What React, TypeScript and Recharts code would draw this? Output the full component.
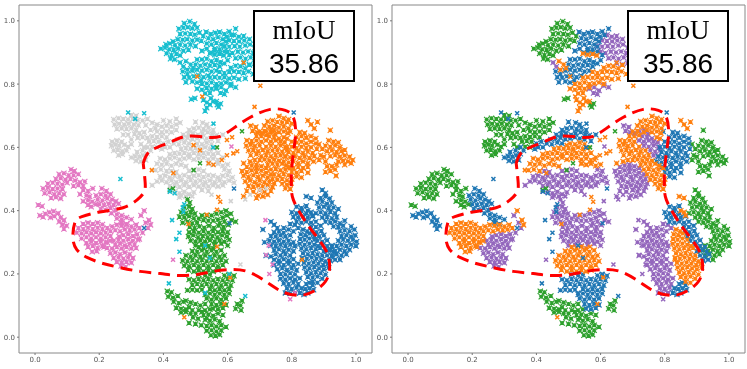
import React from 'react';
import { ScatterChart, Scatter, XAxis, YAxis, ReferenceArea } from 'recharts';

// every cluster is listed as flat x,y pairs in thousandths, both panels share the same embedding
const topGreen = [465,992,482,998,497,990,448,975,462,978,476,980,490,976,505,978,452,958,468,960,484,958,498,956,512,962,524,952,430,935,445,942,460,940,474,942,490,938,505,940,518,936,408,925,420,928,436,922,452,925,468,922,484,924,500,920,392,912,405,915,418,910,432,908,446,912,462,905,478,908,410,897,425,892,440,895,452,890,422,880,435,878];
const topBlue = [533,965,548,958,562,962,575,965,590,958,605,966,540,945,555,942,570,948,585,942,598,950,612,955,535,928,550,925,565,930,580,925,595,935,560,912,575,910,590,918,625,975,520,905,535,912,548,900,560,905,575,898,590,903,605,892];
const topPurple = [620,955,635,950,650,952,605,938,620,936,636,935,652,938,668,942,590,920,605,918,622,920,638,918,655,922,670,925,685,915,600,902,615,898,632,902,648,900,664,903,680,898,695,905,625,882,640,884,656,880,672,884,688,880,702,890,650,866,668,862,684,866,452,868,462,855,565,785,580,790,595,780,578,772,590,768,610,795,625,790];
const topOrange = [470,872,485,862,492,850,475,845,545,897,560,893,575,895,588,890,610,852,625,858,640,856,655,850,668,860,575,838,590,835,605,838,620,840,635,838,650,835,665,840,680,832,545,820,560,822,575,820,590,822,605,818,620,820,635,815,655,818,520,800,535,802,550,805,565,800,580,802,595,805,610,800,505,785,520,782,535,788,550,785,565,790,530,770,545,772,525,750,535,742,545,735,555,745,535,725,530,715,548,755,565,745];
const topBlueMid = [520,878,535,880,550,872,565,876,578,870,500,862,515,858,530,862,545,858,560,860,575,856,590,865,460,840,475,832,490,842,505,845,520,842,535,845,550,840,565,842,465,822,480,820,495,825,510,828,525,822,540,826,470,806,490,808,505,805,518,812,600,875,505,878];
const topGreenLow = [568,735,578,738,572,728,487,752,498,755];

const greyGreen = [300,702,315,700,245,688,260,692,275,690,290,688,305,690,320,685,248,672,262,675,278,672,292,675,308,672,322,670,400,685,420,682,440,690,255,658,270,660,285,658,300,660,315,655,395,665,410,668,425,665,440,672,452,678,310,642,325,645,340,648,380,650,395,648,410,650,425,648,440,655,320,630,335,632,350,630,365,635,380,633,395,635,410,632,240,618,255,622,270,618,355,618,370,620,385,618,238,605,250,608,262,605,278,608,290,602,365,602,380,600,245,590,258,592,272,588,285,590,260,575,272,578,335,685,350,690,365,678,380,672,345,670,360,655,375,660,330,610,340,600,300,610,300,625,290,640,275,640];
const greyBlue = [300,568,312,572,325,570,338,575,350,580,360,590,315,558,330,555,345,560,318,585,335,590,350,600,500,680,522,678,535,672,480,655,495,660,510,662,525,658,540,662,555,655,462,640,478,642,492,645,508,640,522,645,538,648,552,642,565,638,445,625,460,628,475,630,490,626,505,628,520,632,535,628,550,625,570,620,432,612,448,610,465,615,480,612,585,640,405,600,400,612,415,618,395,595,420,600];
const greyOrange = [505,612,520,610,535,615,550,610,455,595,470,598,485,596,500,598,515,595,530,600,545,595,560,598,420,578,435,582,450,580,465,582,480,578,495,582,510,578,525,582,540,580,555,578,570,582,390,565,405,562,420,565,435,568,450,562,465,565,480,568,495,562,510,565,525,568,540,562,555,565,570,560,585,568,380,548,395,545,410,548,425,542,440,548,455,545,470,540,540,548,555,545,570,548,585,542,600,546,375,528,392,530,410,525];
const greyPurple = [425,525,440,522,480,525,495,528,510,530,525,525,590,530,605,525,390,508,405,510,420,505,435,510,450,508,465,512,480,506,495,510,510,512,525,506,540,512,555,510,570,505,585,510,600,512,615,505,380,492,395,495,410,490,425,495,440,490,455,495,470,490,485,496,500,492,515,495,530,490,545,495,560,490,575,495,590,490,605,495,620,488,365,480,420,478,435,480,450,475,465,480,480,475,495,480,510,476,525,480,540,476,555,480,570,476,585,480,420,462,435,460,450,455,465,460,480,452,495,458,520,465,540,462,450,442,470,445,455,448];

const orangeTop = [760,698,775,692,790,688,725,682,740,685,755,680,770,678,785,680,800,675,715,668,730,665,745,668,760,662,775,665,790,660,700,650,715,652,760,648,775,650,788,645,690,636,705,635,720,638,775,632,785,628,660,622,675,620,690,622,705,618,658,605,672,608,685,604,700,606,720,602,665,590,680,592,695,588,710,592,725,588,740,590,672,575,690,578,705,572,720,576,735,572,750,576,700,560,715,562,730,558,745,562,760,558,725,545,740,548,755,545,770,548,782,542,735,530,750,532,765,528,780,530,795,535,745,515,760,512,775,516,790,512,755,498,770,500,785,496,800,500,770,485,785,482,798,487,780,470,795,468,880,680,860,672,870,660,850,685,735,648,745,655,650,550,670,555,685,560];
const orangePurple = [672,668,688,664,678,652,692,648,706,645,720,650,735,655,748,642,730,635,745,632,760,628,720,622,735,618,750,622,765,618,778,615,735,605,750,602,765,606,780,600,755,590,770,586,785,590,765,574,780,572,690,545,660,538,675,542,690,535,705,540,720,535,645,525,660,522,675,528,690,522,705,526,720,520,735,515,650,510,665,506,680,512,695,506,710,510,725,505,740,500,655,492,670,495,685,490,700,495,715,490,730,492,745,486,665,478,680,475,695,480,710,476,725,480,740,475,660,462,680,460,700,465,715,460,735,462,695,448,710,445,725,450,690,440,650,445];
const orangeBlue = [795,650,825,648,840,645,815,632,830,635,845,630,860,635,875,628,800,618,815,615,830,618,845,612,860,618,875,612,785,600,800,602,815,598,830,602,845,598,860,600,878,595,790,585,805,582,820,588,835,582,850,586,865,582,780,570,795,568,810,572,825,566,840,570,855,566,870,572,775,555,790,552,805,556,820,550,835,555,850,550,868,555,790,538,805,535,820,538,835,535,850,538,800,522,815,520,830,525,850,520,815,508,830,505];
const orangeGreen = [915,622,930,618,945,615,905,605,920,602,935,606,950,600,910,588,925,590,940,585,955,588,965,592,920,572,935,575,950,570,965,574,980,570,945,555,960,558,975,555,990,560,925,540,940,545,965,545,985,550,905,522,920,525,935,530,938,510,920,654,885,610,895,595,890,575,900,570,905,555,885,560,910,540];

const pinkGreen = [112,530,122,525,75,515,90,518,105,512,120,512,135,515,65,500,80,502,95,498,110,500,40,485,55,488,70,485,85,482,100,488,125,495,140,490,155,492,25,470,40,472,55,468,70,470,85,468,120,478,135,480,150,478,30,455,45,458,60,452,75,455,90,452,150,465,165,462,180,470,50,440,65,442,80,438,140,452,160,448,170,445,150,430,165,432,178,428,165,418,175,412,190,420,10,418,22,414];
const pinkBlue = [15,385,25,380,32,390,45,395,58,398,72,392,60,382,48,378,80,378,90,370,75,365,85,355,98,352,90,342,208,470,222,462,190,448,205,452,220,448,235,452,195,435,210,432,225,438,240,435,252,430,200,420,215,418,230,422,245,418,260,422,205,405,220,402,235,408,250,402,238,392,255,388,270,385,255,375,270,372,285,378,300,372,270,362,285,358];
const pinkOrange = [150,358,165,362,180,358,195,362,210,356,135,345,150,342,165,346,180,342,195,346,210,342,225,345,240,350,255,355,270,352,285,355,300,350,315,355,130,330,145,328,160,332,175,328,190,332,205,328,220,330,235,335,250,338,265,335,280,340,295,338,310,340,325,345,145,312,160,316,175,312,190,316,205,312,220,316,235,320,160,298,175,302,190,298,205,302,220,300,165,285,180,288,195,282,210,288,178,270,192,272,340,400,355,370,360,355,225,300,235,305,215,285];
const pinkPurple = [262,318,275,322,290,325,305,320,318,325,245,305,260,308,275,305,290,310,305,305,320,308,250,292,265,295,280,290,295,295,310,292,225,282,240,280,255,285,270,280,285,285,300,280,315,282,235,265,250,268,265,262,280,268,295,262,245,250,260,252,275,248,290,252,305,250,255,238,270,235,285,238,300,235,268,225,282,222,345,362,352,345,330,385,325,310,335,330];

const midPurple = [475,435,482,425,465,410,480,412,490,405,455,395,470,392,485,396,498,390,450,380,465,378,480,382,495,376,460,362,475,365,490,360,505,362,555,368,570,372,585,378,598,385,612,370,482,348,497,345,512,350,527,346,542,352,557,345,572,352,587,348,602,355,625,365,480,332,495,335,510,330,525,335,540,330,555,335,570,332,585,336,600,332,478,318,493,322,508,316,523,320,538,316,553,320,568,316,583,322,598,318,485,305,500,302,515,306,530,302,545,306,560,302,575,306,590,302,605,308,500,290,520,292,540,288,560,292,580,295,600,290,510,375,525,370,540,368,520,385,535,385,550,385,565,390,580,395,595,400,610,390,575,360,590,365];
const midOrange = [510,285,525,282,540,286,555,280,490,272,505,270,520,274,535,270,550,274,565,270,580,275,470,258,485,255,500,258,515,254,530,258,545,254,560,258,575,254,590,258,460,242,475,240,490,244,505,240,520,244,535,240,550,244,565,240,580,244,595,240,465,226,480,224,495,228,510,224,525,228,540,224,555,228,570,224,585,228,478,212,495,208,510,212,525,208,540,212,555,208,570,212];
const midBlue = [510,198,530,195,545,198,590,195,605,198,620,194,480,182,495,180,510,184,525,180,540,184,555,180,570,184,585,180,600,184,615,180,490,165,505,168,520,164,535,168,550,164,565,168,580,164,595,168,610,164,475,148,490,150,505,148,520,150,545,152,560,148,575,152,590,148,605,152,530,135,545,138,560,134,575,138,590,134,605,138,535,122,550,118,565,122,580,118,595,122,550,105,565,102,580,106,595,102,555,90,570,88,585,92];
const midGreen = [412,145,425,142,415,128,430,125,445,130,432,112,448,108,462,112,440,92,455,90,470,88,480,95,455,78,470,80,485,75,490,85,492,62,508,58,525,70,540,72,555,68,570,75,585,70,480,45,500,42,530,55,545,52,560,56,575,50,518,38,535,35,550,38,565,34,580,38,595,32,535,20,550,22,565,18,580,22,548,6,562,4,575,8,640,100,642,85,645,115,625,90,630,105,470,115,485,110,500,105,515,100,530,105,510,85,530,85,545,88,500,75,520,80,535,60];

const rightPurple = [745,355,755,345,745,332,760,335,775,330,735,320,750,318,765,322,780,318,795,322,730,305,745,302,760,306,775,302,790,305,805,300,735,290,750,288,765,292,780,288,795,292,810,288,745,275,760,278,775,272,790,276,805,272,720,258,735,255,750,262,765,258,780,262,795,258,745,245,760,242,775,246,790,242,805,246,745,228,760,232,775,228,790,232,805,228,820,232,755,215,770,218,785,212,800,218,815,212,765,200,780,198,795,202,810,198,765,185,780,182,795,186,810,182,825,186,775,170,790,168,805,172,820,168,785,155,800,152,815,156,780,140,795,138,810,140,710,340,715,300,735,365,775,345,790,340,805,335,820,345,810,355,795,358];
const rightOrange = [835,340,848,335,828,325,842,322,856,328,826,310,840,308,855,312,870,308,825,295,840,292,855,296,870,292,882,288,830,280,845,278,860,282,875,278,888,282,835,265,850,262,865,266,880,262,895,258,832,250,847,248,862,252,877,248,892,245,905,240,838,235,853,232,868,236,883,232,898,228,912,232,840,220,855,218,870,222,885,218,900,215,915,220,845,205,860,202,875,206,890,202,905,198,850,190,865,188,880,192,895,185,865,175,880,172,845,445,860,440,850,400,860,395,865,385];
const rightBlue = [815,412,830,408,845,415,800,395,815,392,830,398,845,392,805,380,820,378,835,382,850,378,865,382,815,365,830,362,845,366,860,362,875,365,860,350,875,348,890,352,862,335,877,332,892,336,870,320,885,318,900,322,880,305,895,302,910,306,895,290,910,288,925,285,900,272,915,275,930,270,910,258,925,255,938,262,920,242,935,245,845,168,855,172,865,165,830,155,842,152,855,155,868,150,825,140,838,135,850,140];
const rightGreen = [895,465,905,455,890,440,905,445,918,438,880,425,895,428,910,422,925,425,885,410,900,412,915,408,930,410,945,405,875,392,890,395,905,392,920,396,935,392,895,378,910,380,925,376,940,380,905,365,920,362,935,366,950,360,965,368,930,350,945,348,960,352,985,350,950,335,965,338,980,335,995,340,955,320,970,322,985,318,998,322,945,305,960,308,975,305,990,308,1002,302,925,290,940,288,955,292,970,288,985,292,1000,288,920,275,935,272,950,276,965,272,980,276,925,258,940,262,955,258,970,262,950,245];

// stray labels scattered between the clusters
const strayOrange = [494,607,514,591,431,519,364,528,541,550,556,545,582,560,598,575,618,581,630,588,598,623,614,632,571,443,577,428,567,403,535,387,478,358,567,286,608,189,465,63,832,245,590,105,702,795,650,868,505,824,521,761,684,728];
const strayGreen = [494,528,514,550,645,651,567,600,420,465,430,470];
const strayCyan = [290,710,340,708,312,690,266,500,556,675,555,600,462,396,427,370,440,310,450,330,450,270,530,290,545,250,605,200,417,170,530,140,655,130,420,460,435,455,460,410,465,420];
const strayBlue = [340,345,806,710,606,360,620,470];
const strayPink = [612,603,718,370,728,290,720,260,740,230,730,200,810,140,795,120,430,245];
const strayGrey = [640,230,610,430,655,435,670,450,490,445,550,450,700,465,720,470];

const outlineX = [337,352,383,427,474,537,577,618,671,733,780,805,812,805,799,799,805,833,868,905,918,905,868,827,774,724,671,618,555,505,443,390,327,265,212,162,130,118,124,146,202,274,318,340,343,337];
const outlineY = [550,582,601,619,635,632,635,660,695,720,717,695,645,582,519,472,434,381,330,277,223,176,145,132,142,173,204,214,208,198,195,201,208,220,233,252,277,314,362,381,396,409,434,459,491,550];

const xTicks = [0, 0.2, 0.4, 0.6, 0.8, 1];
const yTicks = [0, 0.2, 0.4, 0.6, 0.8, 1];

const BLUE = '#1f77b4';
const ORANGE = '#ff7f0e';
const GREEN = '#2ca02c';
const PURPLE = '#9467bd';
const PINK = '#e377c2';
const GREY = '#d2d2d2';
const CYAN = '#17becf';

const toPoints = (flat: number[]) => {
  const out: { x: number; y: number }[] = [];
  for (let i = 0; i < flat.length; i += 2) out.push({ x: flat[i] / 1000, y: flat[i + 1] / 1000 });
  return out;
};

const outline = outlineX.map((x, i) => ({ x: x / 1000, y: outlineY[i] / 1000 }));

// third entry marks the packed clusters, they get a fuller marker so the blobs read solid
const leftSeries: [string, number[], boolean][] = [
  [CYAN, [...topGreen, ...topBlue, ...topPurple, ...topOrange, ...topBlueMid, ...topGreenLow], true],
  [GREY, [...greyGreen, ...greyBlue, ...greyOrange, ...greyPurple], true],
  [ORANGE, [...orangeTop, ...orangePurple, ...orangeBlue, ...orangeGreen], true],
  [PINK, [...pinkGreen, ...pinkBlue, ...pinkOrange, ...pinkPurple], true],
  [GREEN, [...midPurple, ...midOrange, ...midBlue, ...midGreen], true],
  [BLUE, [...rightPurple, ...rightOrange, ...rightBlue, ...rightGreen], true],
  [ORANGE, strayOrange, false],
  [GREEN, strayGreen, false],
  [CYAN, strayCyan, false],
  [BLUE, strayBlue, false],
  [PINK, strayPink, false],
  [GREY, strayGrey, false],
];

const rightSeries: [string, number[], boolean][] = [
  [GREEN, [...topGreen, ...topGreenLow, ...greyGreen, ...orangeGreen, ...pinkGreen, ...midGreen, ...rightGreen], true],
  [PURPLE, [...topPurple, ...greyPurple, ...orangePurple, ...pinkPurple, ...midPurple, ...rightPurple], true],
  [BLUE, [...topBlue, ...topBlueMid, ...greyBlue, ...orangeBlue, ...pinkBlue, ...midBlue, ...rightBlue], true],
  [ORANGE, [...topOrange, ...greyOrange, ...orangeTop, ...pinkOrange, ...midOrange, ...rightOrange], true],
  [GREEN, strayGreen, false],
  [PURPLE, [...strayPink, ...strayGrey], false],
  [BLUE, [...strayCyan, ...strayBlue], false],
  [ORANGE, strayOrange, false],
];

const xMark = (color: string, full: boolean) => (props: any) => {
  const { cx, cy } = props;
  const r = full ? 2.6 : 2;
  const cross = `M${cx - r},${cy - r}L${cx + r},${cy + r}M${cx - r},${cy + r}L${cx + r},${cy - r}`;
  const plus = `M${cx - 2},${cy}L${cx + 2},${cy}M${cx},${cy - 2}L${cx},${cy + 2}`;
  return <path d={full ? cross + plus : cross} stroke={color} strokeWidth={full ? 1.15 : 1.5} fill="none" />;
};

const Panel = ({ series, left }: { series: [string, number[], boolean][]; left: number }) => (
  <div style={{ position: 'absolute', left, top: 0 }}>
    <ScatterChart width={375} height={369} margin={{ top: 5, right: 3, bottom: 0, left: 0 }}>
      <XAxis
        type="number"
        dataKey="x"
        domain={[-0.05, 1.05]}
        ticks={xTicks}
        tickFormatter={(v: number) => v.toFixed(1)}
        height={16}
        axisLine={false}
        tickSize={2}
        tickLine={{ stroke: '#777' }}
        tick={{ fontSize: 7, fill: '#555', fontFamily: 'DejaVu Sans' }}
        allowDataOverflow
      />
      <YAxis
        type="number"
        dataKey="y"
        domain={[-0.05, 1.05]}
        ticks={yTicks}
        tickFormatter={(v: number) => v.toFixed(1)}
        width={19}
        axisLine={false}
        tickSize={2}
        tickLine={{ stroke: '#777' }}
        tick={{ fontSize: 7, fill: '#555', fontFamily: 'DejaVu Sans' }}
        allowDataOverflow
      />
      {series.map(([color, flat, full], i) => (
        <Scatter key={i} data={toPoints(flat)} shape={xMark(color, full)} isAnimationActive={false} />
      ))}
      <Scatter
        data={outline}
        line={{ stroke: '#ff0000', strokeWidth: 3, strokeDasharray: '12 7' }}
        lineJointType="natural"
        shape={() => <g />}
        isAnimationActive={false}
      />
      <ReferenceArea x1={-0.05} x2={1.05} y1={-0.05} y2={1.05} fill="none" stroke="#888" strokeWidth={1} />
    </ScatterChart>
  </div>
);

const ScoreBox = ({ left }: { left: number }) => (
  <div
    style={{
      position: 'absolute',
      left,
      top: 10,
      width: 98,
      height: 68,
      border: '2px solid #000',
      background: '#fff',
      textAlign: 'center',
      color: '#000',
    }}
  >
    <div style={{ position: 'absolute', left: 0, right: 0, top: 5, fontFamily: 'Liberation Serif', fontSize: 27, lineHeight: '27px' }}>mIoU</div>
    <div style={{ position: 'absolute', left: 0, right: 0, top: 38, fontFamily: 'Liberation Sans', fontSize: 28, lineHeight: '28px' }}>35.86</div>
  </div>
);

export default function App() {
  return (
    <div style={{ position: 'absolute', left: 0, top: 0, width: 747, height: 369, overflow: 'hidden', background: '#fff', filter: 'blur(0.3px)' }}>
      <Panel series={leftSeries} left={0} />
      <Panel series={rightSeries} left={373} />
      <ScoreBox left={253} />
      <ScoreBox left={627} />
    </div>
  );
}
